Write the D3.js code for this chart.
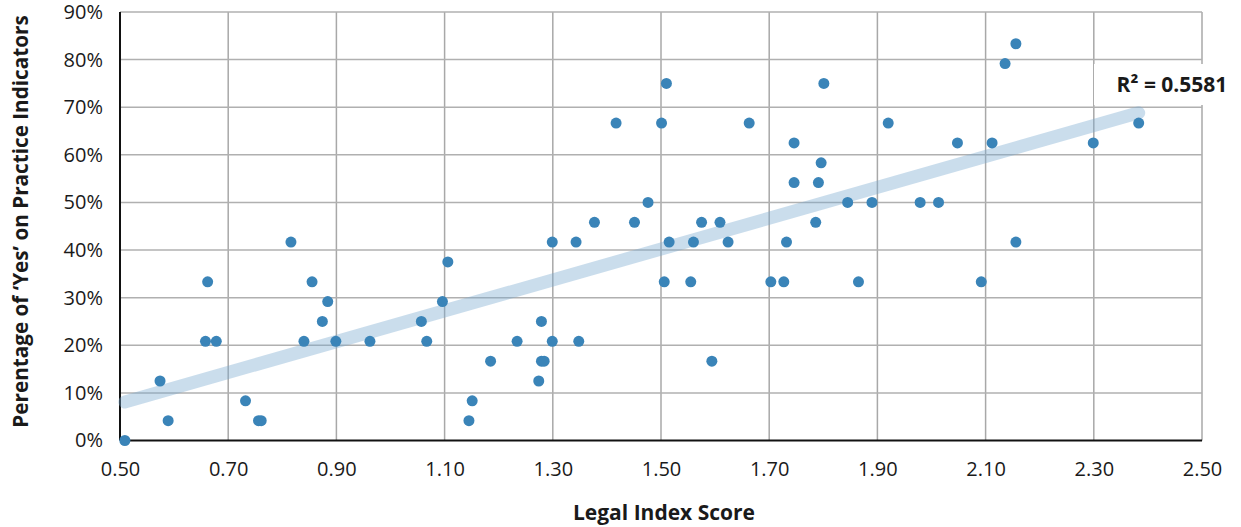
<!DOCTYPE html>
<html>
<head>
<meta charset="utf-8">
<script src="https://cdn.jsdelivr.net/npm/d3@7"></script>
<style>
  html, body { margin: 0; padding: 0; background: #fff; }
  svg { display: block; }
  text { font-family: "Open Sans", "Noto Sans", sans-serif; fill: #1a1a1a; }
</style>
</head>
<body>
<svg id="chart" width="1241" height="527"></svg>
<script>
// Legal Index Score (x) for each country
const legalScore = [
  0.509, 0.574, 0.589, 0.662, 0.658, 0.678, 0.732, 0.756, 0.761, 0.816,
  0.855, 0.884, 0.874, 0.840, 0.899, 0.962, 1.057, 1.067, 1.106, 1.096,
  1.185, 1.151, 1.145, 1.234, 1.279, 1.299, 1.348, 1.279, 1.284, 1.274,
  1.594, 1.506, 1.555, 1.703, 1.727, 1.865, 1.299, 1.343, 1.515, 1.560,
  1.624, 1.732, 1.377, 1.451, 1.575, 1.609, 1.786, 1.476, 1.845, 1.890,
  1.979, 2.013, 1.746, 1.791, 1.796, 1.746, 2.048, 2.112, 2.299, 1.417,
  1.501, 1.663, 1.920, 2.383, 1.510, 1.801, 2.136, 2.156, 2.156, 2.092
];
// Percentage of 'Yes' on practice indicators (y)
const pctYes = [
  0, 12.5, 4.17, 33.33, 20.83, 20.83, 8.33, 4.17, 4.17, 41.67,
  33.33, 29.17, 25, 20.83, 20.83, 20.83, 25, 20.83, 37.5, 29.17,
  16.67, 8.33, 4.17, 20.83, 25, 20.83, 20.83, 16.67, 16.67, 12.5,
  16.67, 33.33, 33.33, 33.33, 33.33, 33.33, 41.67, 41.67, 41.67, 41.67,
  41.67, 41.67, 45.83, 45.83, 45.83, 45.83, 45.83, 50, 50, 50,
  50, 50, 54.17, 54.17, 58.33, 62.5, 62.5, 62.5, 62.5, 66.67,
  66.67, 66.67, 66.67, 66.67, 75, 75, 79.17, 83.33, 41.67, 33.33
];
const xTicks = [0.5, 0.7, 0.9, 1.1, 1.3, 1.5, 1.7, 1.9, 2.1, 2.3, 2.5];
const yTicks = [0, 10, 20, 30, 40, 50, 60, 70, 80, 90];
const rSquaredLabel = "R² = 0.5581";
const xTitle = "Legal Index Score";
const yTitle = "Perentage of \u2018Yes\u2019 on Practice Indicators";

const svg = d3.select("#chart");
const m = { left: 120, right: 1202, top: 12, bottom: 440.5 };

const x = d3.scaleLinear().domain([0.5, 2.5]).range([m.left, m.right]);
const y = d3.scaleLinear().domain([0, 90]).range([m.bottom, m.top]);

// grid
const grid = svg.append("g");
grid.selectAll("line.v").data(xTicks.slice(1)).join("line")
  .attr("x1", d => x(d)).attr("x2", d => x(d))
  .attr("y1", m.top).attr("y2", m.bottom)
  .attr("stroke", "#a8a8a8").attr("stroke-width", 1.5);
grid.selectAll("line.h").data(yTicks.slice(1)).join("line")
  .attr("x1", m.left).attr("x2", m.right)
  .attr("y1", d => y(d)).attr("y2", d => y(d))
  .attr("stroke", "#b0b0b0").attr("stroke-width", 1.5);

// axes
const xAxis = d3.axisBottom(x).tickValues(xTicks).tickSize(0).tickPadding(21)
  .tickFormat(d3.format(".2f"));
const yAxis = d3.axisLeft(y).tickValues(yTicks).tickSize(0).tickPadding(17)
  .tickFormat(d => d + "%");
const gx = svg.append("g").attr("transform", `translate(0,${m.bottom})`).call(xAxis);
const gy = svg.append("g").attr("transform", `translate(${m.left},0)`).call(yAxis);
[gx, gy].forEach(g => {
  g.select(".domain").attr("stroke", "#111").attr("stroke-width", 2);
  g.selectAll("text").style("font-size", "20px").style("font-family", "'Open Sans', sans-serif").attr("fill", "#1a1a1a");
});
gy.select(".domain").attr("d", `M0,${m.top}V${m.bottom}`);
gx.select(".domain").attr("d", `M${m.left},0H${m.right}`);

// regression
const pts = legalScore.map((v, i) => ({ x: v, y: pctYes[i] }));
const mx = d3.mean(pts, d => d.x), my = d3.mean(pts, d => d.y);
const sxy = d3.sum(pts, d => (d.x - mx) * (d.y - my));
const sxx = d3.sum(pts, d => (d.x - mx) * (d.x - mx));
const slope = sxy / sxx, intercept = my - slope * mx;
const [x0, x1] = d3.extent(legalScore);
svg.append("line")
  .attr("x1", x(x0)).attr("y1", y(intercept + slope * x0))
  .attr("x2", x(x1)).attr("y2", y(intercept + slope * x1))
  .attr("stroke", "#7aaad0").attr("stroke-opacity", 0.4)
  .attr("stroke-width", 13).attr("stroke-linecap", "round");

// points
svg.append("g").selectAll("circle").data(pts).join("circle")
  .attr("cx", d => x(d.x)).attr("cy", d => y(d.y)).attr("r", 5.5)
  .attr("fill", "#3a84b8");

// R² label with white box
svg.append("rect").attr("x", 1094).attr("y", 64).attr("width", 147).attr("height", 41).attr("fill", "#fff");
svg.append("text").attr("x", 1172).attr("y", 92).attr("text-anchor", "middle")
  .style("font-size", "21px").style("font-weight", "700").text(rSquaredLabel);

// axis titles
svg.append("text").attr("x", 664).attr("y", 520).attr("text-anchor", "middle")
  .style("font-size", "21px").style("font-weight", "700").text(xTitle);
svg.append("text").attr("transform", `translate(28,221.5) rotate(-90)`)
  .attr("text-anchor", "middle")
  .style("font-size", "20.7px").style("font-weight", "700").text(yTitle);
</script>
</body>
</html>
